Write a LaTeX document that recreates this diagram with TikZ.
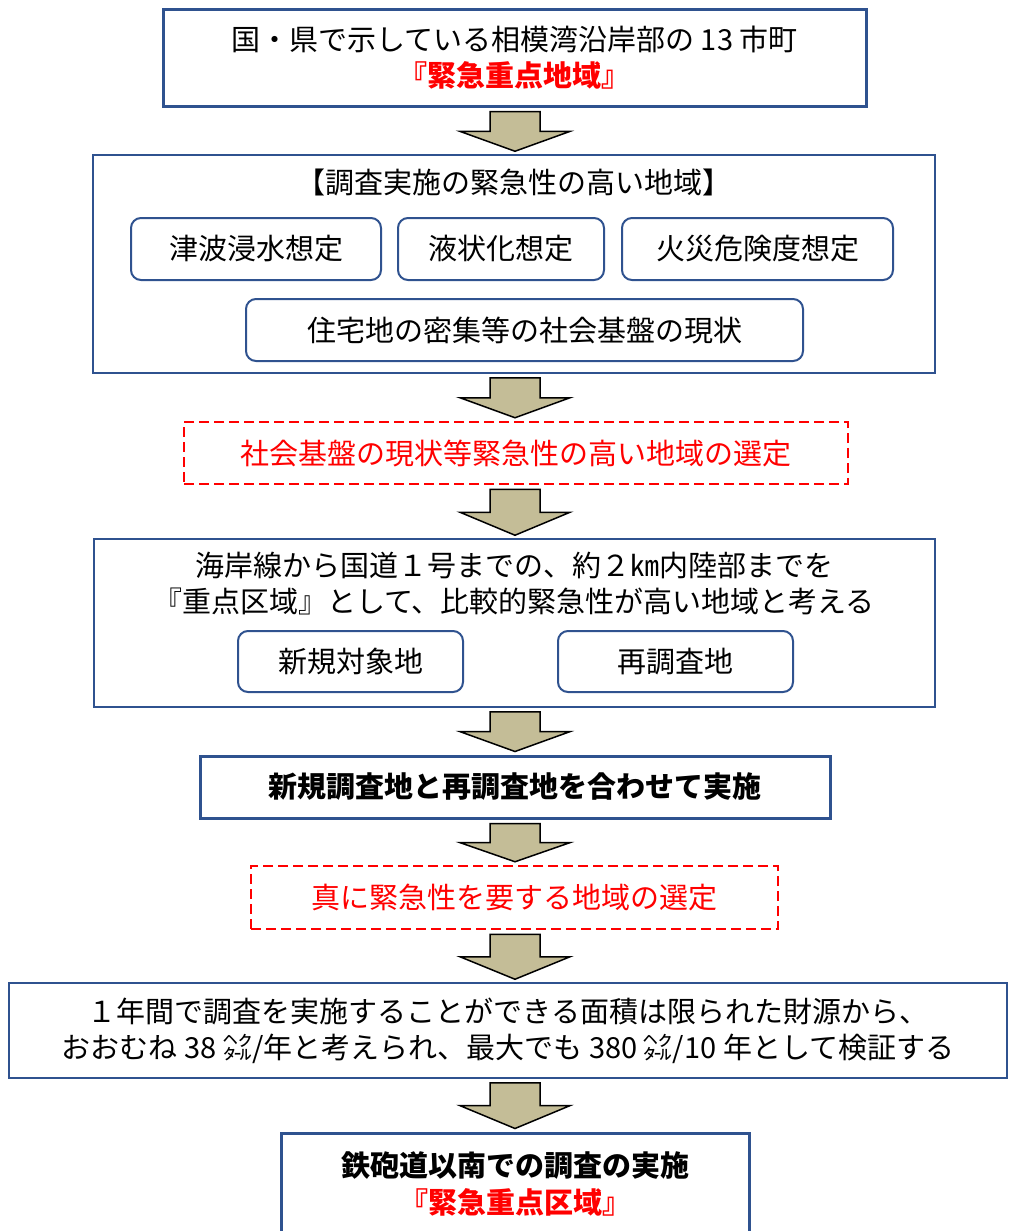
\documentclass[tikz,border=0pt]{standalone}
\usepackage{fontspec}
\newfontfamily\jp{Noto Sans CJK JP}
\usetikzlibrary{calc}
\definecolor{bblue}{RGB}{47,82,143}
\definecolor{arrtan}{RGB}{196,189,151}
\tikzset{
 base/.style={font=\jp\fontsize{29}{36}\selectfont, inner sep=0pt, align=center},
 thickbox/.style={base, draw=bblue, line width=3pt, fill=white},
 thinbox/.style={base, draw=bblue, line width=1.5pt},
 subbox/.style={base, draw=bblue, line width=2pt, rounded corners=10pt},
 dashbox/.style={base, draw=red, line width=2.5pt, dash pattern=on 10pt off 5pt, text=red},
 plain/.style={base},
 blk/.style={fill=arrtan, draw=black, line width=1.5pt, line join=miter},
}
\newcommand\blockarr[2]{%
 \path[blk] let \p1=(#1.south), \p2=(#2.north), \n1={\y1-4pt}, \n3={\y2+3pt}, \n2={(\n1+\n3)/2} in
 (490pt,\n1) -- (540pt,\n1) -- (540pt,\n2) -- (570pt,\n2) -- (515pt,\n3) -- (460pt,\n2) -- (490pt,\n2) -- cycle;}
\begin{document}
\begin{tikzpicture}[x=1pt,y=-1pt]
\useasboundingbox (0,0) rectangle (1009,1231);
\clip (0,0) rectangle (1009,1231);
% box 1
\node[thickbox, minimum width=703, minimum height=96] (b1) at (514.5,58)
 {国・県で示している相模湾沿岸部の 13 市町\\{\bfseries\textcolor{red}{『緊急重点地域』}}};
% box 2
\node[thinbox, minimum width=842, minimum height=218] (b2) at (514,264) {};
\node[plain] (t2) at (514,182) {【調査実施の緊急性の高い地域】};
\node[subbox, minimum width=250, minimum height=62] (s1) at (256,249) {津波浸水想定};
\node[subbox, minimum width=206, minimum height=62] (s2) at (501,249) {液状化想定};
\node[subbox, minimum width=271, minimum height=62] (s3) at (757.5,249) {火災危険度想定};
\node[subbox, minimum width=557, minimum height=62] (s4) at (524.5,330) {住宅地の密集等の社会基盤の現状};
% box 3
\node[dashbox, minimum width=664, minimum height=62] (b3) at (516,453) {社会基盤の現状等緊急性の高い地域の選定};
% box 4
\node[thinbox, minimum width=841, minimum height=168] (b4) at (514.5,623) {};
\node[plain] (t4) at (514,584) {海岸線から国道１号までの、約２㎞内陸部までを\\『重点区域』として、比較的緊急性が高い地域と考える};
\node[subbox, minimum width=225, minimum height=61] (s5) at (350.5,661.5) {新規対象地};
\node[subbox, minimum width=235, minimum height=61] (s6) at (675.5,661.5) {再調査地};
% box 5
\node[thickbox, minimum width=630, minimum height=62, font=\jp\bfseries\fontsize{29}{36}\selectfont] (b5) at (515,787) {新規調査地と再調査地を合わせて実施};
% box 6
\node[dashbox, minimum width=527, minimum height=63] (b6) at (514.5,897.5) {真に緊急性を要する地域の選定};
% box 7
\node[thinbox, minimum width=998, minimum height=95] (b7) at (508,1030.5)
 {１年間で調査を実施することができる面積は限られた財源から、\\おおむね 38 ㌶/年と考えられ、最大でも 380 ㌶/10 年として検証する};
% box 8
\node[thickbox, minimum width=468, minimum height=120] (b8) at (515,1193) {};
\node[plain, font=\jp\bfseries\fontsize{29}{37}\selectfont] (t8) at (515,1183.5) {鉄砲道以南での調査の実施\\\textcolor{red}{『緊急重点区域』}};
% arrows
\blockarr{b1}{b2}
\blockarr{b2}{b3}
\blockarr{b3}{b4}
\blockarr{b4}{b5}
\blockarr{b5}{b6}
\blockarr{b6}{b7}
\blockarr{b7}{b8}
\end{tikzpicture}
\end{document}
